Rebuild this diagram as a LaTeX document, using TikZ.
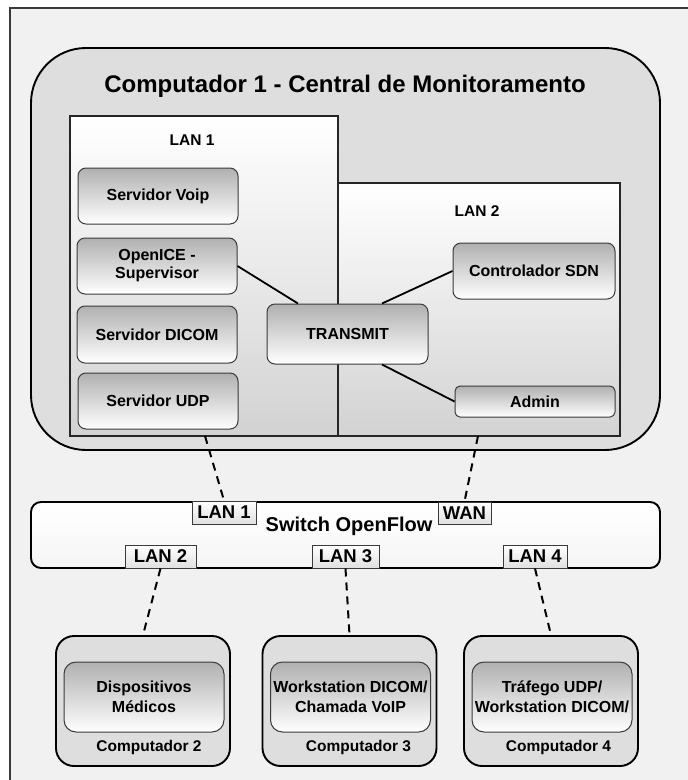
\documentclass[tikz,border=0pt]{standalone}
\usepackage{fontspec}
\setmainfont{Liberation Sans}
\usetikzlibrary{calc}
\definecolor{bgpanel}{HTML}{F1F1F1}
\definecolor{hostfill}{HTML}{DEDEDE}
\definecolor{rimgray}{HTML}{3A3A3A}
\definecolor{shadegray}{HTML}{B0B0B0}
\definecolor{zonegray}{HTML}{D2D2D2}
\tikzset{
  host/.style={draw=black, line width=1.9pt, fill=hostfill},
  zone/.style={draw=black!85, line width=1.9pt, top color=white, bottom color=zonegray},
  svc/.style={draw=rimgray, line width=1pt, rounded corners=8pt,
    top color=shadegray, bottom color=white, align=center,
    font=\bfseries\fontsize{16}{18}\selectfont, inner sep=0pt},
  port/.style={draw=rimgray, line width=1pt, top color=white, bottom color=black!12,
    font=\bfseries\fontsize{18.5}{20}\selectfont, inner sep=0pt},
  link/.style={line width=1.8pt, black},
  cable/.style={line width=2pt, black, dash pattern=on 8pt off 6pt},
  hostlabel/.style={font=\bfseries\fontsize{15.5}{17}\selectfont, inner sep=0pt},
  zonelabel/.style={font=\bfseries\fontsize{15.5}{17}\selectfont, inner sep=0pt}
}
\begin{document}
\begin{tikzpicture}[x=1pt, y=-1pt]
\useasboundingbox (0,0) rectangle (688,780);
\clip (0,0) rectangle (688,780);
% outer panel
\draw[rimgray, line width=1.8pt, fill=bgpanel] (10,8) rectangle (700,800);

% Computador 1
\node[host, rounded corners=55pt, minimum width=629pt, minimum height=402pt] (c1) at (345.5,249) {};
\node[font=\bfseries\fontsize{24}{26}\selectfont, inner sep=0pt] (c1title) at (345,86) {Computador 1 - Central de Monitoramento};

% LAN zones
\node[zone, minimum width=282pt, minimum height=253pt, inner sep=0pt] (lan2) at (479,309.5) {};
\node[zone, minimum width=268pt, minimum height=320pt, inner sep=0pt] (lan1) at (204,276) {};
\node[zonelabel] (lan1t) at (192,140) {LAN 1};
\node[zonelabel] (lan2t) at (477,211) {LAN 2};

% services in LAN 1
\node[svc, minimum width=160pt, minimum height=56pt] (voip) at (158,196) {Servidor Voip};
\node[svc, minimum width=160pt, minimum height=56pt] (openice) at (157,266) {OpenICE -\\Supervisor};
\node[svc, minimum width=160pt, minimum height=57pt] (dicom) at (157,334.5) {Servidor DICOM};
\node[svc, minimum width=160pt, minimum height=56pt] (udp) at (158,401) {Servidor UDP};

% TRANSMIT and LAN 2 services
\node[svc, minimum width=161pt, minimum height=60pt] (transmit) at (347.5,334) {TRANSMIT};
\node[svc, minimum width=162pt, minimum height=56pt] (sdn) at (534,271) {Controlador SDN};
\node[svc, rounded corners=5pt, minimum width=160pt, minimum height=31pt] (admin) at (535,401.5) {Admin};

\draw[link] (openice.east) -- ($(transmit.north)+(-49.5,0)$);
\draw[link] (sdn.west) -- ($(transmit.north)+(34.5,0)$);
\draw[link] ($(transmit.south)+(34.5,0)$) -- (admin.west);

% switch
\node[draw=black, line width=1.9pt, rounded corners=10pt, top color=white, bottom color=black!4,
  minimum width=629pt, minimum height=66pt] (sw) at (345.5,535) {};
\node[font=\bfseries\fontsize{20}{22}\selectfont, inner sep=0pt] (swt) at (349,526) {Switch OpenFlow};
\node[port, minimum width=64pt, minimum height=23pt] (pl1) at (224,512.5) {LAN 1};
\node[port, minimum width=53pt, minimum height=22pt] (pwan) at (464.5,513) {WAN};
\node[port, minimum width=71pt, minimum height=23pt] (pl2) at (160.5,556.5) {LAN 2};
\node[port, minimum width=67pt, minimum height=23pt] (pl3) at (345.5,556.5) {LAN 3};
\node[port, minimum width=64pt, minimum height=23pt] (pl4) at (535,556.5) {LAN 4};

% cables between Computador 1 and the switch
\coordinate (up1) at (205,436);
\coordinate (upw) at (478,436);
\draw[cable] (up1) -- (pl1.north);
\draw[cable] (upw) -- (pwan.north);

% other computers
\foreach \n/\cx/\lx/\txt in {2/143/149/{Dispositivos\\Médicos},
                             3/349.5/358.5/{Workstation DICOM/\\Chamada VoIP},
                             4/551/558.5/{Tráfego UDP/\\Workstation DICOM/}} {
  \node[host, rounded corners=18pt, minimum width=174pt, minimum height=130pt] (c\n) at (\cx,701) {};
  \node[svc, font=\bfseries\fontsize{16}{20}\selectfont, rounded corners=12pt,
    minimum width=160pt, minimum height=70pt] (in\n) at (\cx+1,697) {\txt};
  \node[hostlabel] (lb\n) at (\lx,747) {Computador \n};
}
\draw[cable] (pl2.south) -- (c2.north);
\draw[cable] (pl3.south) -- (c3.north);
\draw[cable] (pl4.south) -- (c4.north);
\end{tikzpicture}
\end{document}
